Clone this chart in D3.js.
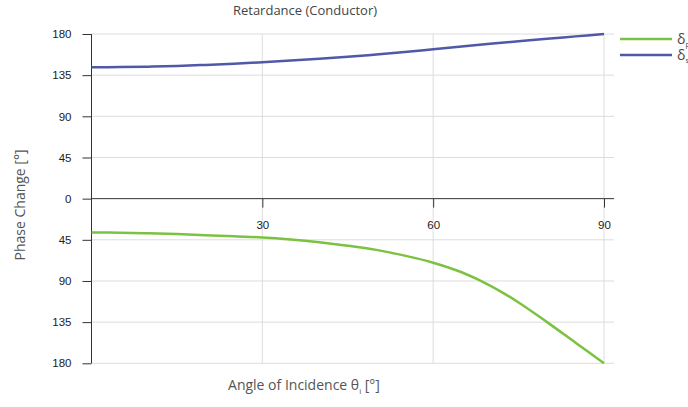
<!doctype html>
<html>
<head>
<meta charset="UTF-8">
<title>Retardance (Conductor)</title>
<script src="https://cdn.jsdelivr.net/npm/d3@7"></script>
<style>
  body { margin: 0; background: #fff; }
  svg { font-family: "Open Sans", "Noto Sans", sans-serif; }
  .grid line { stroke: #dcdcdc; stroke-width: 1; }
  .axis text { fill: #222; font-size: 11.5px; }
  .axis line { stroke: #333; }
</style>
</head>
<body>
<svg id="chart" width="688" height="407"></svg>
<script>
// angle of incidence, degrees
var angles = [0, 5, 10, 15, 20, 25, 30, 35, 40, 45, 50, 55, 60, 65, 70, 75, 80, 85, 90];
// phase change of s, drawn above the axis
var deltaS = [143.6, 143.8, 144.3, 145.1, 146.2, 147.5, 149.1, 150.9, 152.9, 155.1,
              157.6, 160.3, 163.3, 166.3, 169.3, 172.0, 174.8, 177.4, 180];
// phase change of p, drawn below the axis (negative)
var deltaP = [-37, -37.2, -37.8, -38.7, -39.9, -41.2, -42.4, -44.6, -47.6, -51.4,
              -56.0, -62.3, -70, -80.5, -95, -113.5, -135, -157.5, -180];
var xTicks = [30, 60, 90];
var yTicks = [-180, -135, -90, -45, 0, 45, 90, 135, 180];

var series = [
  {id: "p", color: "#7cc242", values: deltaP},
  {id: "s", color: "#5058a8", values: deltaS}
];

var svg = d3.select("#chart");

var x = d3.scaleLinear().domain([0, 90]).range([91.5, 604]),
    y = d3.scaleLinear().domain([-180, 180]).range([363.3, 34]);

var gridRight = 614;

// grid
var grid = svg.append("g").attr("class", "grid");
grid.selectAll(".h")
  .data(yTicks.filter(function(d) { return d !== 0; }))
  .enter().append("line")
  .attr("x1", x(0)).attr("x2", gridRight)
  .attr("y1", function(d) { return y(d); })
  .attr("y2", function(d) { return y(d); });
grid.selectAll(".v")
  .data(xTicks)
  .enter().append("line")
  .attr("x1", function(d) { return x(d); })
  .attr("x2", function(d) { return x(d); })
  .attr("y1", y(180)).attr("y2", y(-180));

// y axis
var yAxis = svg.append("g")
  .attr("class", "axis")
  .attr("transform", "translate(" + x(0) + ",0)")
  .call(d3.axisLeft(y).tickValues(yTicks).tickSize(9).tickPadding(11)
    .tickFormat(function(d) { return Math.abs(d); }));
yAxis.select(".domain").remove();
yAxis.append("line")
  .attr("y1", y(180)).attr("y2", y(-180))
  .attr("stroke", "#333");

// x axis on the zero line
var xAxis = svg.append("g")
  .attr("class", "axis")
  .attr("transform", "translate(0," + y(0) + ")")
  .call(d3.axisBottom(x).tickValues(xTicks).tickSize(9).tickPadding(13));
xAxis.select(".domain").remove();
xAxis.append("line")
  .attr("x1", x(0)).attr("x2", gridRight)
  .attr("stroke", "#333");

// curves
var line = d3.line()
  .curve(d3.curveCatmullRom.alpha(0.5))
  .x(function(d, i) { return x(angles[i]); })
  .y(function(d) { return y(d); });

svg.selectAll(".curve")
  .data(series)
  .enter().append("path")
  .attr("class", "curve")
  .attr("fill", "none")
  .attr("stroke", function(d) { return d.color; })
  .attr("stroke-width", 2.5)
  .attr("d", function(d) { return line(d.values); });

// legend
var legend = svg.selectAll(".legend")
  .data(series)
  .enter().append("g")
  .attr("class", "legend")
  .attr("transform", function(d, i) { return "translate(620," + (39 + i * 16) + ")"; });
legend.append("line")
  .attr("x1", 0).attr("x2", 52)
  .attr("stroke", function(d) { return d.color; })
  .attr("stroke-width", 2.6);
var lt = legend.append("text")
  .attr("x", 57).attr("dy", "0.35em")
  .attr("fill", "#444")
  .style("font-size", "14px");
lt.append("tspan").text("δ");
lt.append("tspan").attr("dy", "3").style("font-size", "7px")
  .text(function(d) { return d.id; });

// title and axis labels
svg.append("text")
  .attr("x", 305).attr("y", 15)
  .attr("text-anchor", "middle")
  .attr("fill", "#444")
  .style("font-size", "13px")
  .text("Retardance (Conductor)");

var xl = svg.append("text")
  .attr("x", 304).attr("y", 390)
  .attr("text-anchor", "middle")
  .attr("fill", "#555")
  .style("font-size", "14px");
xl.append("tspan").text("Angle of Incidence θ");
xl.append("tspan").attr("dy", "4").style("font-size", "8px").text("i");
xl.append("tspan").attr("dy", "-4").text(" [°]");

svg.append("text")
  .attr("transform", "translate(25,205) rotate(-90)")
  .attr("text-anchor", "middle")
  .attr("fill", "#555")
  .style("font-size", "14px")
  .text("Phase Change [°]");
</script>
</body>
</html>
